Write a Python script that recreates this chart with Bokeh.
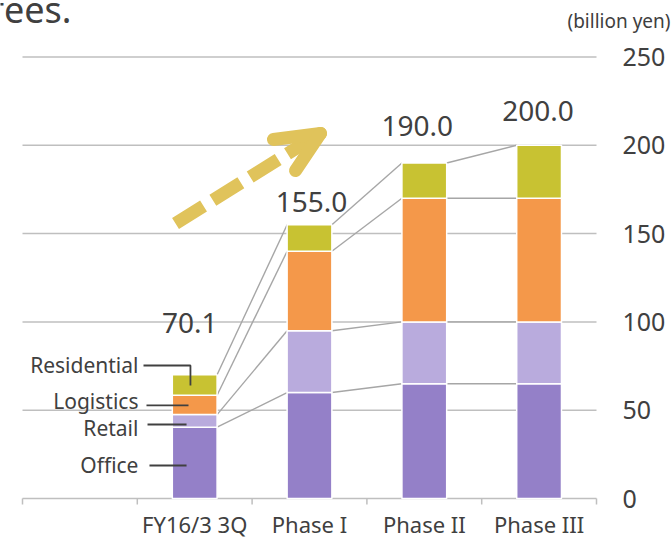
from bokeh.plotting import figure
from bokeh.models import ColumnDataSource, Range1d
from bokeh.core.properties import value
from bokeh.embed import file_html
from bokeh.resources import INLINE

# ---- data (billion yen) ----
categories = ["FY16/3 3Q", "Phase I", "Phase II", "Phase III"]
segments = ["Office", "Retail", "Logistics", "Residential"]
office = [40.4, 60.0, 65.0, 65.0]
retail = [7.1, 35.0, 35.0, 35.0]
logistics = [11.0, 45.0, 70.0, 70.0]
residential = [11.6, 15.0, 20.0, 30.0]
y_ticks = [0, 50, 100, 150, 200, 250]

# ---- styling ----
FONT = "Noto Sans"
TEXT = "#404040"
GRID = "#BFBFBF"
LINK = "#A6A6A6"
ARROW = "#E0C35B"
colors = ["#9480C8", "#B9ABDD", "#F4984A", "#C8C232"]

W, H = 671, 537
BAR_W = 0.39
N_SLOTS = 5                 # one empty slot on the left holds the segment names
PX_PER_X = 114.8            # pixels per category slot
PX_PER_Y = 1.766            # pixels per billion yen
LEFT_PAD, RIGHT_PAD, BOTTOM_PAD = 22, 75, 39
TOP_Y = (H - BOTTOM_PAD) / PX_PER_Y


def from_top(px):
    """Value-axis position of a point given in pixels below the canvas top."""
    return TOP_Y - px / PX_PER_Y


# the plotting frame covers the whole canvas; the chart body sits inside it
x_range = Range1d(-LEFT_PAD / PX_PER_X, N_SLOTS + RIGHT_PAD / PX_PER_X)
y_range = Range1d(-BOTTOM_PAD / PX_PER_Y, TOP_Y)

xs = [i + 1.5 for i in range(len(categories))]
totals = [round(o + r + l + h, 1) for o, r, l, h in zip(office, retail, logistics, residential)]

p = figure(width=W, height=H, x_range=x_range, y_range=y_range,
           output_backend="svg", toolbar_location=None,
           min_border=0, outline_line_color=None, background_fill_color="white")
p.xaxis.visible = False
p.yaxis.visible = False
p.xgrid.grid_line_color = None
p.ygrid.grid_line_color = None

# horizontal grid lines and the category baseline
p.segment(x0=[0] * len(y_ticks), y0=y_ticks, x1=[N_SLOTS] * len(y_ticks), y1=y_ticks,
          line_color=GRID, line_width=1.5)
# tick marks at the slot boundaries
tick_len = 6 / PX_PER_Y
bounds = list(range(N_SLOTS + 1))
p.segment(x0=bounds, y0=[0] * len(bounds), x1=bounds, y1=[-tick_len] * len(bounds),
          line_color=GRID, line_width=1.5)

# value scale on the right
p.text(x=[N_SLOTS + 26 / PX_PER_X] * len(y_ticks), y=y_ticks, text=[str(t) for t in y_ticks],
       text_align="left", text_baseline="middle",
       text_font=value(FONT), text_font_size="25px", text_color=TEXT)
p.text(x=[N_SLOTS + 74 / PX_PER_X], y=[from_top(20.7)], text=["(billion yen)"],
       text_align="right", text_baseline="middle",
       text_font=value(FONT), text_font_size="19px", text_color=TEXT)

# category names under the slots
p.text(x=xs, y=[-25 / PX_PER_Y] * len(xs), text=categories,
       text_align="center", text_baseline="middle",
       text_font=value(FONT), text_font_size="22px", text_color=TEXT)

# connector lines between the tops of matching segments
cum = []
run = [0.0] * len(xs)
for seg in (office, retail, logistics, residential):
    run = [a + b for a, b in zip(run, seg)]
    cum.append(run)
x0, y0, x1, y1 = [], [], [], []
for i in range(len(xs) - 1):
    for lvl in cum:
        x0.append(xs[i] + BAR_W / 2)
        y0.append(lvl[i])
        x1.append(xs[i + 1] - BAR_W / 2)
        y1.append(lvl[i + 1])
p.segment(x0, y0, x1, y1, line_color=LINK, line_width=1.4)

# stacked bars
source = ColumnDataSource(dict(x=xs, Office=office, Retail=retail,
                               Logistics=logistics, Residential=residential))
p.vbar_stack(segments, x="x", width=BAR_W, fill_color=colors,
             line_color="white", line_width=1.5, source=source)

# totals above the bars (text centre offset from the bar top, in pixels)
label_gap_px = [51.5, 22.6, 37.0, 34.8]
label_shift_px = [-5, 2, -7, -1]
p.text(x=[x + s / PX_PER_X for x, s in zip(xs, label_shift_px)],
       y=[t + g / PX_PER_Y for t, g in zip(totals, label_gap_px)],
       text=[f"{t:.1f}" for t in totals],
       text_align="center", text_baseline="middle",
       text_font=value(FONT), text_font_size="28px", text_color=TEXT)

# segment names with leader lines
name_x = 1.01
name_y = [18.7, 40.2, 55.2, 75.6]
p.text(x=[name_x] * 4, y=name_y, text=segments,
       text_align="right", text_baseline="middle",
       text_font=value(FONT), text_font_size="21px", text_color=TEXT)
p.multi_line(xs=[[1.106, 1.429], [1.089, 1.429], [1.080, 1.446], [1.054, 1.463, 1.463]],
             ys=[[18.7, 18.7], [41.9, 41.9], [52.7, 52.7], [75.3, 75.3, 64.0]],
             line_color=TEXT, line_width=1.8)

# dashed growth arrow
tail = (1.333, 155.7)
tip = (2.596, 206.7)
p.line([tail[0], tip[0] - 0.06], [tail[1], tip[1] - 2.2], line_color=ARROW,
       line_width=13, line_dash="33 11", line_cap="butt")
p.multi_line(xs=[[2.186, tip[0]], [2.378, tip[0]]],
             ys=[[203.3, tip[1]], [185.7, tip[1]]],
             line_color=ARROW, line_width=13, line_cap="round", line_join="round")

# tail of the heading that runs in from the left
p.text(x=[-31 / PX_PER_X], y=[from_top(9.1)], text=["fees."],
       text_align="left", text_baseline="middle",
       text_font=value(FONT), text_font_size="36px", text_color=TEXT)

open("out.html", "w").write(file_html(p, INLINE))
